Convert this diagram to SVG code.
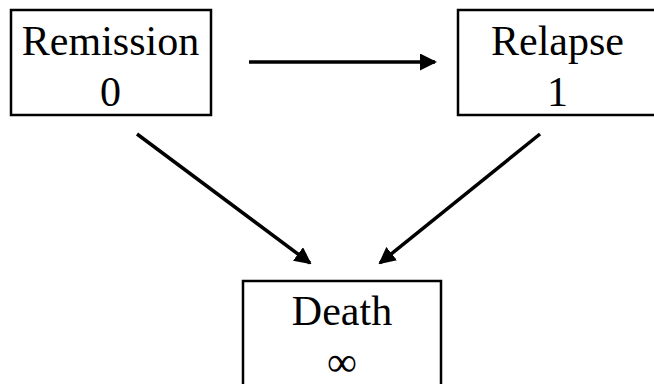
<svg xmlns="http://www.w3.org/2000/svg" width="654" height="384" viewBox="0 0 654 384">
<style>
.box{fill:#fff;stroke:#000;stroke-width:2.5}
.t{font-family:"Liberation Serif","Times New Roman",serif;font-size:42px;fill:#000;text-anchor:middle}
.c{stroke:#000;stroke-width:3.5;fill:none;marker-end:url(#ah)}
</style>
<defs>
<marker id="ah" markerWidth="17" markerHeight="17" refX="15" refY="8.5" orient="auto" markerUnits="userSpaceOnUse" viewBox="0 0 17 17">
<path d="M0,0 L17,8.5 L0,17 z" fill="#000"/>
</marker>
</defs>
<rect width="654" height="384" fill="#fff"/>
<g id="remission">
<rect class="box" x="11" y="10" width="200" height="105"/>
<text class="t" x="110.5" y="55">Remission</text>
<text class="t" x="110.5" y="106">0</text>
</g>
<g id="relapse">
<rect class="box" x="458" y="10" width="210" height="105"/>
<text class="t" x="557.5" y="55">Relapse</text>
<text class="t" x="557.5" y="106">1</text>
</g>
<g id="death">
<rect class="box" x="243" y="281" width="198" height="120"/>
<text class="t" x="342" y="325">Death</text>
<text class="t" x="342" y="376">∞</text>
</g>
<g id="connectors">
<line class="c" x1="249" y1="62" x2="435" y2="62"/>
<line class="c" x1="137" y1="134" x2="310" y2="263"/>
<line class="c" x1="540" y1="134" x2="380" y2="263"/>
</g>
</svg>
